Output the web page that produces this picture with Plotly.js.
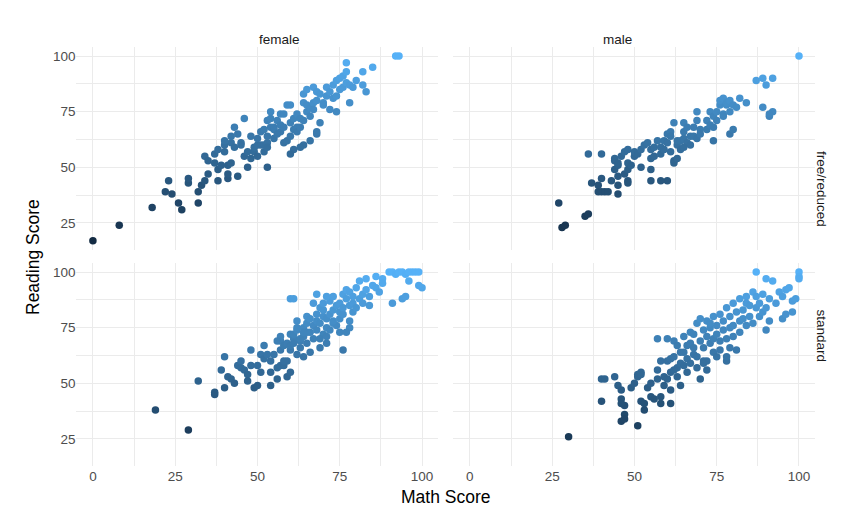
<!DOCTYPE html>
<html>
<head>
<meta charset="utf-8">
<script src="https://cdn.plot.ly/plotly-3.0.1.min.js"></script>
<style>body{margin:0;background:#fff}</style>
</head>
<body>
<div id="chart" style="width:862px;height:532px"></div>
<script>
// [math, reading] pairs, one list per facet
const femaleFree = [[0,17],[8,24],[18,32],[23,44],[22,39],[24,38],[27,31],[26,34],[29,43],[29,45],[32,34],[32,39],[33,42],[34,44],[35,47],[38,44],[38,49],[41,45],[41,47],[44,46],[34,55],[37,56],[35,53],[37,52],[38,58],[40,60],[40,57],[39,51],[41,51],[42,52],[42,61],[40,62],[43,59],[42,64],[44,65],[43,68],[45,61],[45,60],[46,55],[47,57],[47,50],[48,54],[48,64],[49,57],[49,59],[50,55],[50,60],[50,63],[51,60],[51,66],[52,57],[52,60],[53,61],[53,59],[53,64],[54,68],[52,67],[54,75],[55,63],[53,71],[54,72],[55,67],[55,68],[56,71],[57,74],[57,66],[56,65],[57,69],[58,61],[58,68],[59,62],[58,74],[59,78],[60,70],[60,78],[61,72],[60,64],[61,67],[62,68],[62,74],[62,66],[63,68],[63,72],[64,79],[64,83],[65,78],[65,85],[65,75],[64,71],[66,73],[66,77],[67,79],[67,76],[67,86],[68,84],[68,80],[69,83],[69,70],[70,79],[70,78],[71,86],[71,82],[72,84],[72,76],[73,81],[73,87],[74,89],[74,82],[74,75],[75,85],[75,90],[76,86],[76,91],[77,93],[77,97],[77,88],[78,87],[78,79],[79,86],[80,89],[82,87],[83,84],[82,93],[85,95],[92,100],[93,100],[66,62],[64,60],[61,58],[63,59],[60,56],[68,65],[68,66],[46,72],[53,50]];
const maleFree = [[27,34],[28,23],[29,24],[35,28],[36,29],[37,43],[39,42],[40,45],[39,39],[40,39],[41,39],[42,39],[45,38],[45,42],[43,44],[45,46],[44,49],[45,51],[48,44],[47,47],[48,52],[44,53],[44,54],[45,52],[46,55],[47,57],[48,58],[48,49],[49,51],[50,55],[50,57],[51,56],[52,58],[52,50],[55,49],[55,54],[53,60],[54,61],[55,58],[56,55],[56,59],[57,62],[58,59],[58,56],[59,62],[59,58],[60,61],[60,65],[61,66],[61,64],[62,70],[61,57],[60,44],[62,53],[62,52],[63,54],[63,60],[63,62],[64,58],[64,62],[65,63],[65,66],[65,70],[66,68],[66,61],[67,60],[67,64],[68,68],[68,64],[69,63],[69,71],[70,67],[70,65],[69,75],[72,71],[72,67],[73,75],[73,69],[74,73],[74,68],[74,62],[75,75],[75,71],[76,78],[76,80],[77,81],[77,74],[77,73],[78,78],[78,79],[79,75],[79,80],[80,78],[79,65],[80,67],[81,77],[82,81],[84,79],[87,89],[89,90],[90,87],[92,90],[89,77],[91,73],[92,75],[91,74],[100,100],[40,56],[36,56],[65,59],[55,44],[58,44],[48,43]];
const femaleStd = [[19,38],[29,29],[32,51],[37,45],[37,46],[40,48],[39,56],[40,62],[41,53],[42,52],[43,50],[44,58],[45,60],[45,57],[46,56],[47,54],[47,51],[48,58],[48,65],[49,48],[50,49],[50,58],[51,55],[51,63],[52,67],[52,61],[53,63],[54,60],[54,55],[54,49],[56,52],[56,57],[57,58],[57,69],[57,71],[57,65],[58,58],[58,67],[59,60],[59,53],[60,55],[59,68],[60,72],[60,65],[61,70],[61,72],[62,63],[62,74],[62,78],[63,66],[63,69],[64,62],[64,71],[64,75],[65,77],[65,73],[65,80],[65,68],[66,64],[66,73],[67,76],[67,70],[67,86],[68,78],[68,74],[68,81],[69,66],[69,77],[69,84],[70,72],[70,80],[70,83],[70,86],[71,75],[71,68],[71,79],[72,81],[72,74],[72,87],[73,83],[73,89],[73,77],[74,76],[74,85],[75,73],[75,79],[75,82],[75,86],[76,81],[76,90],[76,84],[76,65],[77,88],[77,92],[78,85],[78,78],[78,91],[79,86],[79,82],[79,89],[80,93],[80,84],[81,96],[81,88],[82,90],[82,86],[83,97],[83,92],[84,89],[84,85],[85,94],[86,93],[86,98],[87,91],[88,97],[88,95],[90,100],[91,100],[92,99],[93,100],[94,100],[95,99],[96,100],[97,100],[98,100],[99,100],[100,93],[99,94],[96,96],[91,86],[94,88],[95,89],[60,67],[62,75],[58,60],[55,63],[56,69],[61,68],[63,70],[64,73],[66,79],[69,70],[73,78],[71,71],[60,88],[61,88],[68,90],[71,89],[78,75],[77,73]];
const maleStd = [[30,26],[40,52],[41,52],[44,53],[40,42],[45,49],[46,47],[46,43],[47,40],[46,41],[47,36],[46,33],[47,34],[51,31],[49,48],[50,50],[51,54],[51,53],[52,55],[52,54],[52,42],[53,41],[53,38],[54,48],[55,50],[55,44],[56,43],[57,52],[57,56],[58,41],[58,44],[58,60],[59,53],[59,49],[60,52],[60,60],[61,61],[61,47],[61,41],[61,55],[62,62],[62,69],[63,57],[63,53],[64,64],[64,59],[64,49],[65,58],[65,64],[65,71],[66,67],[66,61],[66,55],[67,68],[67,73],[67,59],[68,63],[68,72],[68,66],[69,77],[69,62],[69,57],[70,69],[70,79],[70,52],[71,74],[71,66],[71,60],[72,78],[72,71],[72,56],[73,68],[73,75],[74,64],[74,80],[74,70],[75,76],[75,72],[75,62],[76,81],[76,65],[76,69],[77,78],[77,74],[78,84],[78,70],[78,60],[79,80],[79,75],[79,66],[80,86],[80,76],[80,71],[81,82],[81,65],[82,78],[82,88],[82,73],[83,83],[83,79],[84,89],[84,86],[84,76],[85,80],[85,85],[86,77],[86,91],[87,100],[87,84],[87,89],[88,80],[88,86],[89,82],[89,90],[90,84],[90,74],[91,78],[91,88],[92,96],[93,86],[94,91],[95,89],[95,79],[96,81],[96,92],[97,93],[98,82],[98,87],[99,88],[100,100],[100,98],[100,97],[90,97],[72,60],[71,59],[63,67],[60,70],[57,70],[73,77],[78,62],[62,56]];

const tickVals = [0, 25, 50, 75, 100];
const yTickVals = [25, 50, 75, 100];

const panels = [
  [femaleFree, 'x', 'y'],
  [maleFree, 'x2', 'y2'],
  [femaleStd, 'x3', 'y3'],
  [maleStd, 'x4', 'y4'],
];

const data = panels.map(([pts, xa, ya]) => ({
  x: pts.map(p => p[0]),
  y: pts.map(p => p[1]),
  xaxis: xa,
  yaxis: ya,
  type: 'scatter',
  mode: 'markers',
  hoverinfo: 'x+y',
  marker: {
    size: 7.5,
    color: pts.map(p => p[1]),
    cmin: 17,
    cmax: 100,
    colorscale: [[0, '#132B43'], [1, '#56B1F7']],
    showscale: false,
  },
}));

const grid = '#EBEBEB';
const tickFont = { size: 13.5, color: '#4D4D4D' };
function xAxis(domain, showLabels, anchor) {
  return {
    domain: domain, anchor: anchor, range: [-5, 105],
    tickvals: tickVals, showticklabels: showLabels,
    gridcolor: grid, gridwidth: 1.1, zeroline: false, ticks: '',
    tickfont: tickFont,
    minor: { tickvals: [12.5, 37.5, 62.5, 87.5], showgrid: true, gridcolor: grid, gridwidth: 0.5 },
  };
}
function yAxis(domain, showLabels, anchor) {
  return {
    domain: domain, anchor: anchor, range: [12.85, 104.15],
    tickvals: yTickVals, showticklabels: showLabels,
    gridcolor: grid, gridwidth: 1.1, zeroline: false, ticks: '',
    tickfont: tickFont,
    minor: { tickvals: [37.5, 62.5, 87.5], showgrid: true, gridcolor: grid, gridwidth: 0.5 },
  };
}

const xl = [0.0887, 0.5087];
const xr = [0.526, 0.946];
const yt = [0.530, 0.912];
const yb = [0.124, 0.506];

const stripFont = { family: 'Liberation Sans, Arial, sans-serif', size: 13.5, color: '#1A1A1A' };
const titleFont = { size: 17.5, color: '#000' };
const layout = {
  width: 862,
  height: 532,
  margin: { l: 0, r: 0, t: 0, b: 0 },
  paper_bgcolor: '#fff',
  plot_bgcolor: '#fff',
  showlegend: false,
  font: { family: 'Liberation Sans, Arial, sans-serif' },
  xaxis: xAxis(xl, false, 'y'),
  yaxis: yAxis(yt, true, 'x'),
  xaxis2: xAxis(xr, false, 'y2'),
  yaxis2: yAxis(yt, false, 'x2'),
  xaxis3: xAxis(xl, true, 'y3'),
  yaxis3: yAxis(yb, true, 'x3'),
  xaxis4: xAxis(xr, true, 'y4'),
  yaxis4: yAxis(yb, false, 'x4'),
  annotations: [
    { text: 'female', xref: 'paper', yref: 'paper', x: (xl[0] + xl[1]) / 2, y: 1 - 30 / 532, showarrow: false, font: stripFont },
    { text: 'male', xref: 'paper', yref: 'paper', x: (xr[0] + xr[1]) / 2, y: 1 - 30 / 532, showarrow: false, font: stripFont },
    { text: 'free/reduced', xref: 'paper', yref: 'paper', x: 831 / 862, y: (yt[0] + yt[1]) / 2, textangle: 90, showarrow: false, font: stripFont },
    { text: 'standard', xref: 'paper', yref: 'paper', x: 831 / 862, y: (yb[0] + yb[1]) / 2, textangle: 90, showarrow: false, font: stripFont },
    { text: 'Math Score', xref: 'paper', yref: 'paper', x: (xl[0] + xr[1]) / 2, y: 1 - 509 / 532, showarrow: false, font: titleFont },
    { text: 'Reading Score', xref: 'paper', yref: 'paper', x: 21 / 862, y: 1 - 257 / 532, textangle: -90, showarrow: false, font: titleFont },
  ],
};

Plotly.newPlot('chart', data, layout, { displayModeBar: false });
</script>
</body>
</html>
